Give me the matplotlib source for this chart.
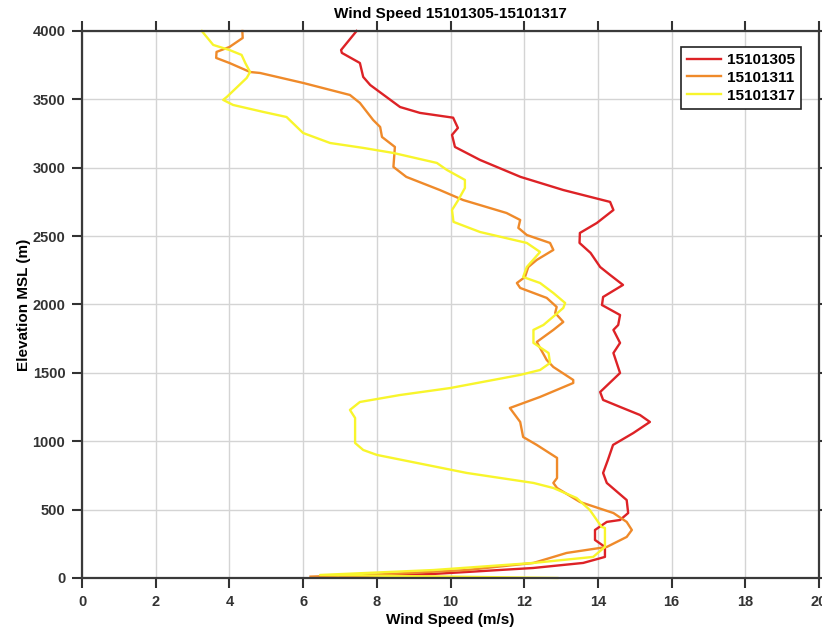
import matplotlib
matplotlib.use("Agg")
import matplotlib.pyplot as plt

plt.rcParams["font.family"] = ["Liberation Sans", "DejaVu Sans"]

# Wind speed profiles (m/s) vs elevation MSL (m), listed top to bottom
speed_05 = [7.45, 7.03, 7.05, 7.54, 7.63, 7.82, 8.63, 9.17, 10.07, 10.2, 10.04, 10.12,
            10.8, 11.9, 13.06, 14.33, 14.42, 13.97, 13.51, 13.5, 13.8, 14.06, 14.33,
            14.68, 14.14, 14.11, 14.6, 14.55, 14.42, 14.6, 14.42, 14.6, 14.06, 14.14,
            14.6, 15.14, 15.41, 14.96, 14.41, 14.27, 14.14, 14.24, 14.78, 14.82, 14.6,
            14.24, 13.92, 13.92, 14.19, 14.19, 13.6, 12.24, 10.45, 9.5, 7.0]
elev_05 = [4000, 3861, 3840, 3766, 3664, 3605, 3444, 3401, 3366, 3291, 3240, 3152,
           3057, 2933, 2837, 2750, 2691, 2596, 2523, 2450, 2377, 2274, 2216,
           2143, 2055, 1996, 1923, 1850, 1814, 1719, 1645, 1499, 1360, 1302,
           1251, 1192, 1141, 1060, 973, 863, 768, 695, 570, 475, 424,
           410, 351, 278, 227, 154, 110, 73, 44, 29, 10]

speed_11 = [4.35, 4.36, 4.0, 3.65, 3.64, 4.0, 4.56, 4.83, 6.0, 7.27, 7.54, 7.9, 8.09,
            8.14, 8.49, 8.45, 8.8, 9.71, 10.34, 11.52, 11.89, 11.84, 12.07, 12.7,
            12.79, 12.34, 12.11, 12.02, 11.8, 11.89, 12.61, 12.88, 12.84, 13.06, 12.79,
            12.34, 12.61, 12.79, 13.33, 13.33, 12.43, 11.61, 11.89, 11.97, 12.34,
            12.89, 12.89, 12.79, 12.89, 13.51, 14.42, 14.78, 14.92, 14.78, 14.24,
            13.15, 12.25, 10.44, 8.0, 6.2]
elev_11 = [4000, 3949, 3883, 3847, 3803, 3766, 3700, 3693, 3620, 3532, 3474, 3349, 3298,
           3225, 3152, 3006, 2933, 2837, 2764, 2669, 2618, 2560, 2508, 2450,
           2399, 2326, 2274, 2201, 2157, 2121, 2048, 1982, 1938, 1872, 1814,
           1726, 1594, 1543, 1448, 1426, 1324, 1243, 1141, 1031, 973,
           878, 731, 695, 658, 556, 475, 410, 351, 300, 227,
           183, 110, 58, 25, 10]

speed_17 = [3.25, 3.56, 4.0, 4.33, 4.43, 4.56, 4.47, 3.93, 3.83, 4.1, 4.92, 5.55,
            5.83, 6.0, 6.73, 7.63, 8.45, 9.63, 9.9, 10.39, 10.39, 10.21, 10.04,
            10.08, 10.8, 12.07, 12.43, 12.24, 12.07, 11.97, 12.43, 12.79, 13.11,
            13.06, 12.84, 12.52, 12.25, 12.25, 12.66, 12.7, 12.43, 11.89, 9.99,
            8.63, 7.54, 7.27, 7.41, 7.41, 7.63, 8.0, 10.44, 12.25, 12.79, 13.42,
            13.78, 14.1, 14.19, 14.19, 13.87, 12.25, 9.53, 6.46, 12.9]
elev_17 = [4000, 3898, 3861, 3825, 3766, 3700, 3657, 3518, 3496, 3459, 3408, 3371,
           3298, 3254, 3181, 3145, 3108, 3035, 2984, 2911, 2852, 2764, 2691,
           2604, 2530, 2450, 2384, 2326, 2274, 2201, 2157, 2084, 2011,
           1975, 1923, 1850, 1814, 1719, 1645, 1572, 1521, 1485, 1389,
           1338, 1287, 1229, 1170, 987, 936, 900, 768, 695, 658, 585,
           497, 373, 366, 227, 154, 110, 58, 22, 0]

profiles = [
    ("15101305", speed_05, elev_05, "#dd2226"),
    ("15101311", speed_11, elev_11, "#ef8a2a"),
    ("15101317", speed_17, elev_17, "#f8f52c"),
]

fig = plt.figure(figsize=(8.22, 6.35), dpi=100)
ax = fig.add_axes([0.0998, 0.0898, 0.8966, 0.8614])

for name, spd, z, col in profiles:
    ax.plot(spd, z, color=col, lw=1.7, label=name, clip_on=False)

ax.set_xlim(0, 20)
ax.set_ylim(0, 4000)
ax.set_xticks(range(0, 21, 2))
ax.set_yticks(range(0, 4001, 500))
ax.grid(True, color="#d4d4d4", lw=1.0)
ax.set_axisbelow(True)
ax.tick_params(direction="out", top=True, right=True, length=7, width=1.5,
               pad=5, labelsize=10.5, colors="#333333")
for lab in ax.get_xticklabels() + ax.get_yticklabels():
    lab.set_fontweight("bold")
for s in ax.spines.values():
    s.set_color("#3a3a3a")
    s.set_linewidth(1.6)

ax.set_xlabel("Wind Speed (m/s)", fontsize=11, fontweight="bold", labelpad=3)
ax.set_ylabel("Elevation MSL (m)", fontsize=11, fontweight="bold", labelpad=1)
ax.set_title("Wind Speed 15101305-15101317", fontsize=11, fontweight="bold", pad=9)

leg = ax.legend(loc="upper right", fancybox=False, framealpha=1, edgecolor="#222222",
                prop={"weight": "bold", "size": 11}, handlelength=2.2,
                borderpad=0.4, labelspacing=0.25, handletextpad=0.4,
                bbox_to_anchor=(0.986, 0.985))
leg.get_frame().set_linewidth(1.2)

fig.savefig("out.png", dpi=100)
